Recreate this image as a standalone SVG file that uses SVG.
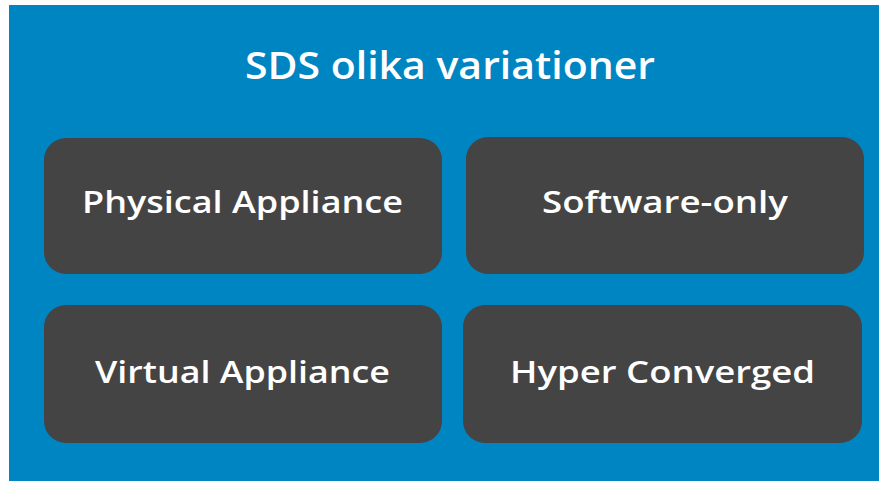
<svg xmlns="http://www.w3.org/2000/svg" width="879" height="481" viewBox="0 0 879 481">
<style>
.bg{fill:#0085C3}
.box{fill:#444444}
.t{font-family:"Open Sans","Liberation Sans",sans-serif;font-weight:600;fill:#ffffff;text-anchor:middle}
.title{font-size:37px}
.lbl{font-size:31px}
</style>
<rect x="0" y="0" width="879" height="481" fill="#ffffff"/>
<rect class="bg" x="9" y="5" width="870" height="476"/>
<text class="t title" x="450" y="79" textLength="410" lengthAdjust="spacingAndGlyphs">SDS olika variationer</text>
<g id="node-physical">
<rect class="box" x="44" y="138" width="398" height="136" rx="22"/>
<text class="t lbl" x="242.5" y="213" textLength="321" lengthAdjust="spacingAndGlyphs">Physical Appliance</text>
</g>
<g id="node-software">
<rect class="box" x="466" y="137" width="398" height="137" rx="22"/>
<text class="t lbl" x="665" y="213" textLength="246" lengthAdjust="spacingAndGlyphs">Software-only</text>
</g>
<g id="node-virtual">
<rect class="box" x="44" y="305" width="398" height="138" rx="22"/>
<text class="t lbl" x="242.5" y="383" textLength="295" lengthAdjust="spacingAndGlyphs">Virtual Appliance</text>
</g>
<g id="node-hyper">
<rect class="box" x="463" y="305" width="399" height="138" rx="22"/>
<text class="t lbl" x="662.5" y="383" textLength="305" lengthAdjust="spacingAndGlyphs">Hyper Converged</text>
</g>
<g id="connectors"></g>
</svg>
